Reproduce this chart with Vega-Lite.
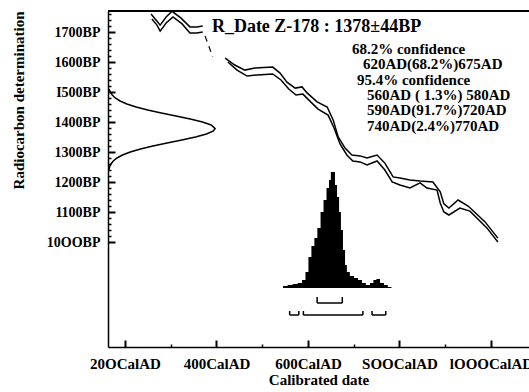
{
  "$schema": "https://vega.github.io/schema/vega-lite/v6.json",
  "width": 421,
  "height": 336,
  "autosize": {"type": "none"},
  "padding": {"left": 108, "top": 11, "right": 0, "bottom": 45},
  "background": "white",
  "config": {
    "view": {"stroke": null},
    "font": "Liberation Serif",
    "axis": {"grid": false, "domainColor": "black", "tickColor": "black", "labelColor": "black", "titleColor": "black"}
  },
  "datasets": {
    "curve": [
      {"part": "u1", "year": 257, "bp": 1760}, {"part": "u1", "year": 268, "bp": 1740}, {"part": "u1", "year": 277, "bp": 1723},
      {"part": "u1", "year": 290, "bp": 1750}, {"part": "u1", "year": 303, "bp": 1769}, {"part": "u1", "year": 322, "bp": 1747},
      {"part": "u1", "year": 342, "bp": 1717}, {"part": "u1", "year": 357, "bp": 1717}, {"part": "u1", "year": 370, "bp": 1720},
      {"part": "l1", "year": 259, "bp": 1743}, {"part": "l1", "year": 270, "bp": 1723}, {"part": "l1", "year": 277, "bp": 1703},
      {"part": "l1", "year": 290, "bp": 1730}, {"part": "l1", "year": 305, "bp": 1750}, {"part": "l1", "year": 325, "bp": 1727},
      {"part": "l1", "year": 342, "bp": 1697}, {"part": "l1", "year": 357, "bp": 1697}, {"part": "l1", "year": 370, "bp": 1700},
      {"part": "u2", "year": 419, "bp": 1613}, {"part": "u2", "year": 440, "bp": 1590}, {"part": "u2", "year": 462, "bp": 1573},
      {"part": "u2", "year": 484, "bp": 1580}, {"part": "u2", "year": 523, "bp": 1583}, {"part": "u2", "year": 539, "bp": 1563},
      {"part": "u2", "year": 554, "bp": 1533}, {"part": "u2", "year": 572, "bp": 1513}, {"part": "u2", "year": 587, "bp": 1517},
      {"part": "u2", "year": 598, "bp": 1497}, {"part": "u2", "year": 620, "bp": 1467}, {"part": "u2", "year": 642, "bp": 1450},
      {"part": "u2", "year": 655, "bp": 1407}, {"part": "u2", "year": 666, "bp": 1350}, {"part": "u2", "year": 681, "bp": 1313},
      {"part": "u2", "year": 696, "bp": 1290}, {"part": "u2", "year": 714, "bp": 1287}, {"part": "u2", "year": 729, "bp": 1280},
      {"part": "u2", "year": 751, "bp": 1290}, {"part": "u2", "year": 768, "bp": 1263}, {"part": "u2", "year": 786, "bp": 1217},
      {"part": "u2", "year": 801, "bp": 1213}, {"part": "u2", "year": 823, "bp": 1207}, {"part": "u2", "year": 845, "bp": 1203},
      {"part": "u2", "year": 873, "bp": 1200}, {"part": "u2", "year": 889, "bp": 1167}, {"part": "u2", "year": 897, "bp": 1127},
      {"part": "u2", "year": 908, "bp": 1113}, {"part": "u2", "year": 928, "bp": 1140}, {"part": "u2", "year": 950, "bp": 1120},
      {"part": "u2", "year": 987, "bp": 1067}, {"part": "u2", "year": 1015, "bp": 1013},
      {"part": "l2", "year": 425, "bp": 1600}, {"part": "l2", "year": 445, "bp": 1573}, {"part": "l2", "year": 467, "bp": 1553},
      {"part": "l2", "year": 489, "bp": 1557}, {"part": "l2", "year": 523, "bp": 1560}, {"part": "l2", "year": 541, "bp": 1540},
      {"part": "l2", "year": 558, "bp": 1510}, {"part": "l2", "year": 574, "bp": 1490}, {"part": "l2", "year": 589, "bp": 1493},
      {"part": "l2", "year": 602, "bp": 1473}, {"part": "l2", "year": 622, "bp": 1443}, {"part": "l2", "year": 644, "bp": 1423},
      {"part": "l2", "year": 657, "bp": 1380}, {"part": "l2", "year": 670, "bp": 1327}, {"part": "l2", "year": 685, "bp": 1290},
      {"part": "l2", "year": 698, "bp": 1270}, {"part": "l2", "year": 714, "bp": 1267}, {"part": "l2", "year": 729, "bp": 1257},
      {"part": "l2", "year": 751, "bp": 1270}, {"part": "l2", "year": 768, "bp": 1240}, {"part": "l2", "year": 784, "bp": 1200},
      {"part": "l2", "year": 801, "bp": 1190}, {"part": "l2", "year": 823, "bp": 1180}, {"part": "l2", "year": 845, "bp": 1197},
      {"part": "l2", "year": 860, "bp": 1180}, {"part": "l2", "year": 882, "bp": 1173}, {"part": "l2", "year": 889, "bp": 1130},
      {"part": "l2", "year": 897, "bp": 1100}, {"part": "l2", "year": 908, "bp": 1090}, {"part": "l2", "year": 932, "bp": 1113},
      {"part": "l2", "year": 954, "bp": 1103}, {"part": "l2", "year": 991, "bp": 1047}, {"part": "l2", "year": 1015, "bp": 1000}
    ],
    "gap": [{"year": 375, "bp": 1687}, {"year": 392, "bp": 1617}],
    "c14": [
      {"bp": 1240, "p": 0.0073}, {"bp": 1250, "p": 0.0145}, {"bp": 1260, "p": 0.0274}, {"bp": 1270, "p": 0.0492},
      {"bp": 1280, "p": 0.0837}, {"bp": 1290, "p": 0.1353}, {"bp": 1300, "p": 0.2078}, {"bp": 1310, "p": 0.303},
      {"bp": 1320, "p": 0.4195}, {"bp": 1330, "p": 0.5516}, {"bp": 1340, "p": 0.6887}, {"bp": 1350, "p": 0.8167},
      {"bp": 1360, "p": 0.9197}, {"bp": 1370, "p": 0.9836}, {"bp": 1378, "p": 1.0}, {"bp": 1390, "p": 0.9635},
      {"bp": 1400, "p": 0.8825}, {"bp": 1410, "p": 0.7676}, {"bp": 1420, "p": 0.6341}, {"bp": 1430, "p": 0.4975},
      {"bp": 1440, "p": 0.3705}, {"bp": 1450, "p": 0.2622}, {"bp": 1460, "p": 0.1761}, {"bp": 1470, "p": 0.1124},
      {"bp": 1480, "p": 0.0681}, {"bp": 1490, "p": 0.0392}, {"bp": 1500, "p": 0.0214}, {"bp": 1510, "p": 0.0111}
    ],
    "cal": [
      {"year": 541, "prob": 0}, {"year": 550, "prob": 2}, {"year": 561, "prob": 3}, {"year": 572, "prob": 4},
      {"year": 583, "prob": 5}, {"year": 591, "prob": 8}, {"year": 598, "prob": 16}, {"year": 604, "prob": 31},
      {"year": 611, "prob": 42}, {"year": 617, "prob": 50}, {"year": 624, "prob": 60}, {"year": 631, "prob": 76},
      {"year": 637, "prob": 88}, {"year": 644, "prob": 100}, {"year": 648, "prob": 108}, {"year": 652, "prob": 116},
      {"year": 657, "prob": 116}, {"year": 661, "prob": 103}, {"year": 666, "prob": 91}, {"year": 670, "prob": 76},
      {"year": 674, "prob": 58}, {"year": 679, "prob": 38}, {"year": 683, "prob": 23}, {"year": 687, "prob": 16},
      {"year": 696, "prob": 12}, {"year": 705, "prob": 10}, {"year": 714, "prob": 8}, {"year": 722, "prob": 5},
      {"year": 731, "prob": 3}, {"year": 740, "prob": 5}, {"year": 746, "prob": 8}, {"year": 753, "prob": 9},
      {"year": 762, "prob": 5}, {"year": 770, "prob": 3}, {"year": 779, "prob": 1}, {"year": 786, "prob": 0}
    ],
    "ranges": [
      {"conf": "68.2%", "from": 620, "to": 675, "level": -15, "top": -9},
      {"conf": "95.4%", "from": 560, "to": 580, "level": -27, "top": -23},
      {"conf": "95.4%", "from": 590, "to": 720, "level": -27, "top": -23},
      {"conf": "95.4%", "from": 740, "to": 770, "level": -27, "top": -23}
    ],
    "head": [{"label": "R_Date Z-178 : 1378±44BP", "year": 390, "bp": 1717}],
    "notes": [
      {"label": "68.2% confidence", "year": 696, "bp": 1643},
      {"label": "620AD(68.2%)675AD", "year": 720, "bp": 1595},
      {"label": "95.4% confidence", "year": 707, "bp": 1540},
      {"label": "560AD ( 1.3%) 580AD", "year": 729, "bp": 1490},
      {"label": "590AD(91.7%)720AD", "year": 729, "bp": 1440},
      {"label": "740AD(2.4%)770AD", "year": 729, "bp": 1387}
    ]
  },
  "resolve": {"scale": {"x": "independent", "y": "independent"}, "axis": {"x": "independent", "y": "independent"}},
  "layer": [
    {
      "encoding": {
        "x": {"type": "quantitative", "scale": {"domain": [163, 1083], "nice": false, "zero": false},
          "axis": {
            "values": [200, 400, 600, 800, 1000],
            "labelExpr": "datum.value == 200 ? '20OCalAD' : datum.value == 400 ? '400CalAD' : datum.value == 600 ? '600CalAD' : datum.value == 800 ? 'SOOCalAD' : 'lOOOCalAD'",
            "labelFont": "Liberation Serif", "labelFontWeight": "bold", "labelFontSize": 15,
            "labelOverlap": false, "labelFlush": false, "labelBound": false,
            "tickSize": -7, "tickWidth": 2, "domainWidth": 1.5,
            "labelPadding": 16,
            "title": "Calibrated date", "titleFont": "Liberation Serif", "titleFontWeight": "bold", "titleFontSize": 15, "titlePadding": 1
          }},
        "y": {"type": "quantitative", "scale": {"domain": [650, 1770], "nice": false, "zero": false},
          "axis": {
            "values": [1000, 1100, 1200, 1300, 1400, 1500, 1600, 1700],
            "labelExpr": "datum.value == 1500 ? 'I500BP' : datum.value == 1000 ? '10OOBP' : datum.value + 'BP'",
            "labelFont": "Liberation Serif", "labelFontWeight": "bold", "labelFontSize": 14,
            "labelOverlap": false, "labelFlush": false, "labelBound": false,
            "tickSize": -7, "tickWidth": 2, "domainWidth": 1.5,
            "labelPadding": 15,
            "title": "Radiocarbon determination", "titleFont": "Liberation Sans Narrow", "titleFontWeight": "bold", "titleFontSize": 15,
            "titleAnchor": "end", "titlePadding": 20
          }}
      },
      "layer": [
        {"data": {"name": "curve"}, "mark": {"type": "line", "color": "black", "strokeWidth": 1.5},
          "encoding": {"x": {"field": "year"}, "y": {"field": "bp"}, "detail": {"field": "part", "type": "nominal"}}},
        {"data": {"name": "gap"}, "mark": {"type": "line", "color": "black", "strokeWidth": 1.2, "strokeDash": [6, 5]},
          "encoding": {"x": {"field": "year"}, "y": {"field": "bp"}}},
        {"data": {"values": [{}]}, "mark": {"type": "rule", "color": "black", "strokeWidth": 2},
          "encoding": {"y": {"datum": 1770}}},
        {"data": {"name": "head"}, "mark": {"type": "text", "align": "left", "baseline": "middle", "font": "Liberation Serif", "fontWeight": "bold", "fontSize": 18, "color": "black"},
          "encoding": {"x": {"field": "year"}, "y": {"field": "bp"}, "text": {"field": "label"}}},
        {"data": {"name": "notes"}, "mark": {"type": "text", "align": "left", "baseline": "middle", "font": "Liberation Serif", "fontWeight": "bold", "fontSize": 15, "color": "black"},
          "encoding": {"x": {"field": "year"}, "y": {"field": "bp"}, "text": {"field": "label"}}}
      ]
    },
    {
      "data": {"name": "c14"},
      "mark": {"type": "line", "color": "black", "strokeWidth": 1.5},
      "encoding": {
        "x": {"field": "p", "type": "quantitative", "scale": {"domain": [0, 3.93], "nice": false}, "axis": null},
        "y": {"field": "bp", "type": "quantitative", "scale": {"domain": [650, 1770], "nice": false, "zero": false},
          "axis": {
            "orient": "left",
            "values": [1020, 1040, 1060, 1080, 1120, 1140, 1160, 1180, 1220, 1240, 1260, 1280, 1320, 1340, 1360, 1380, 1420, 1440, 1460, 1480, 1520, 1540, 1560, 1580, 1620, 1640, 1660, 1680, 1720, 1740, 1760],
            "labels": false, "domain": false, "title": null, "grid": false,
            "tickSize": -3, "tickWidth": 1.5
          }},
        "order": {"field": "bp"}
      }
    },
    {
      "encoding": {
        "x": {"type": "quantitative", "scale": {"domain": [163, 1083], "nice": false, "zero": false},
          "axis": {
            "orient": "bottom",
            "values": [300, 500, 700, 900],
            "labels": false, "domain": false, "title": null, "grid": false,
            "tickSize": -3, "tickWidth": 1.5
          }},
        "y": {"type": "quantitative", "scale": {"domain": [-59, 277], "nice": false, "zero": false}, "axis": null}
      },
      "layer": [
        {"data": {"name": "cal"}, "mark": {"type": "area", "color": "black", "interpolate": "step"},
          "encoding": {"x": {"field": "year"}, "y": {"field": "prob"}}},
        {"data": {"name": "ranges"}, "mark": {"type": "rule", "color": "black", "strokeWidth": 1.5},
          "encoding": {"x": {"field": "from"}, "x2": {"field": "to"}, "y": {"field": "level"}}},
        {"data": {"name": "ranges"}, "mark": {"type": "rule", "color": "black", "strokeWidth": 1.5},
          "encoding": {"x": {"field": "from"}, "y": {"field": "level"}, "y2": {"field": "top"}}},
        {"data": {"name": "ranges"}, "mark": {"type": "rule", "color": "black", "strokeWidth": 1.5},
          "encoding": {"x": {"field": "to"}, "y": {"field": "level"}, "y2": {"field": "top"}}}
      ]
    }
  ]
}
